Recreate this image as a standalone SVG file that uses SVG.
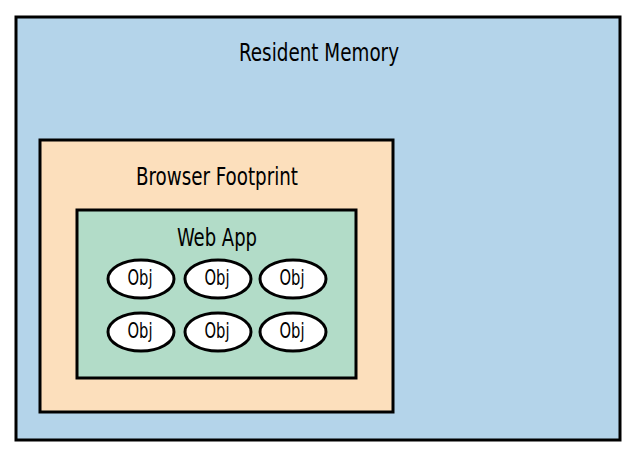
<svg xmlns="http://www.w3.org/2000/svg" width="636" height="472" viewBox="0 0 636 472">
<style>
.box{stroke:#000;stroke-width:3}
.obj{fill:#fff;stroke:#000;stroke-width:3}
text{font-family:"DejaVu Sans Condensed","DejaVu Sans",sans-serif;font-stretch:condensed;fill:#000;text-anchor:middle}
.lbl{font-size:25px}
.o{font-size:21px}
</style>
<rect width="636" height="472" fill="#fff"/>
<g id="resident-memory">
<rect class="box" x="16" y="17" width="604" height="423" fill="#b4d4ea"/>
<text class="lbl" x="319" y="61" textLength="160" lengthAdjust="spacingAndGlyphs">Resident Memory</text>
</g>
<g id="browser-footprint">
<rect class="box" x="40" y="140" width="353" height="272" fill="#fcdfbc"/>
<text class="lbl" x="217" y="185" textLength="162" lengthAdjust="spacingAndGlyphs">Browser Footprint</text>
</g>
<g id="web-app">
<rect class="box" x="77" y="210" width="279" height="168" fill="#b2dcc8"/>
<text class="lbl" x="217" y="246" textLength="80" lengthAdjust="spacingAndGlyphs">Web App</text>
</g>
<g id="obj1"><ellipse class="obj" cx="141" cy="279" rx="33" ry="19"/><text class="o" x="140" y="285" textLength="25" lengthAdjust="spacingAndGlyphs">Obj</text></g>
<g id="obj2"><ellipse class="obj" cx="218" cy="279" rx="33" ry="19"/><text class="o" x="217" y="285" textLength="25" lengthAdjust="spacingAndGlyphs">Obj</text></g>
<g id="obj3"><ellipse class="obj" cx="293" cy="279" rx="33" ry="19"/><text class="o" x="292" y="285" textLength="25" lengthAdjust="spacingAndGlyphs">Obj</text></g>
<g id="obj4"><ellipse class="obj" cx="141" cy="332" rx="33" ry="19"/><text class="o" x="140" y="338" textLength="25" lengthAdjust="spacingAndGlyphs">Obj</text></g>
<g id="obj5"><ellipse class="obj" cx="218" cy="332" rx="33" ry="19"/><text class="o" x="217" y="338" textLength="25" lengthAdjust="spacingAndGlyphs">Obj</text></g>
<g id="obj6"><ellipse class="obj" cx="293" cy="332" rx="33" ry="19"/><text class="o" x="292" y="338" textLength="25" lengthAdjust="spacingAndGlyphs">Obj</text></g>
<g id="connectors"/>
</svg>
